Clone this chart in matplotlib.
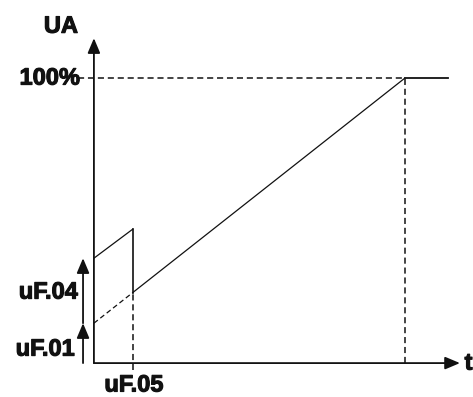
import matplotlib.pyplot as plt
import matplotlib.patheffects as pe

# schematic values (x: time, fraction of ramp time; y: output in %)
t_ramp = 1.0
t_uf05 = 0.125
y_uf01 = 14.0
y_uf04 = 36.8
y_jump = 47.0
y_top = 100.0
x_axis_end = 1.177
y_axis_end = 114.0
top_line_end = 1.138

fig = plt.figure(figsize=(4.73, 3.97), dpi=100)
ax = fig.add_axes([0, 0, 1, 1])
ax.set_xlim(-0.302, 1.219)
ax.set_ylim(-11.9, 127.4)
ax.axis("off")

k = "#111111"
arrow = dict(arrowstyle="-|>,head_length=0.9,head_width=0.38", color=k, lw=1.3,
             shrinkA=0, shrinkB=0)

# axes
ax.annotate("", xy=(0, y_axis_end), xytext=(0, 0), arrowprops=arrow)
ax.annotate("", xy=(x_axis_end, 0), xytext=(0, 0), arrowprops=arrow)

# 100% reference line
ax.plot([-0.05, t_ramp], [y_top, y_top], color=k, lw=1.1, ls=(0, (4, 2.5)))
ax.plot([t_ramp, top_line_end], [y_top, y_top], color=k, lw=1.3)
ax.plot([t_ramp, t_ramp], [0, y_top], color=k, lw=1.1, ls=(0, (4, 2.5)))

# ramp
slope = (y_top - y_uf01) / t_ramp
y_at05 = y_uf01 + slope * t_uf05
ax.plot([0, t_uf05], [y_uf01, y_at05], color=k, lw=0.9, ls=(0, (4, 2.5)))
ax.plot([t_uf05, t_ramp], [y_at05, y_top], color=k, lw=0.9)

# starting jump segment
ax.plot([0, t_uf05], [y_uf04, y_jump], color=k, lw=0.9)
ax.plot([t_uf05, t_uf05], [y_at05, y_jump], color=k, lw=1.2)
ax.plot([t_uf05, t_uf05], [-2.5, y_at05], color=k, lw=1.1, ls=(0, (4, 2.5)))

# left arrows
ax.annotate("", xy=(-0.035, y_uf01), xytext=(-0.035, 0), arrowprops=arrow)
ax.annotate("", xy=(-0.035, y_uf04), xytext=(-0.035, y_uf01), arrowprops=arrow)

font = dict(family="Liberation Sans", fontweight="bold", fontsize=17, color=k,
            path_effects=[pe.withStroke(linewidth=0.8, foreground=k)])
ax.text(-0.106, 118.2, "UA", ha="center", va="center", **font)
ax.text(-0.045, y_top, "100%", ha="right", va="center", **font)
ax.text(-0.051, 24.9, "uF.04", ha="right", va="center", **font)
ax.text(-0.061, 4.9, "uF.01", ha="right", va="center", **font)
ax.text(t_uf05 + 0.004, -7.7, "uF.05", ha="center", va="center", **font)
ax.text(1.192, 0, "t", ha="left", va="center", **font)

fig.savefig("out.png", dpi=100)
